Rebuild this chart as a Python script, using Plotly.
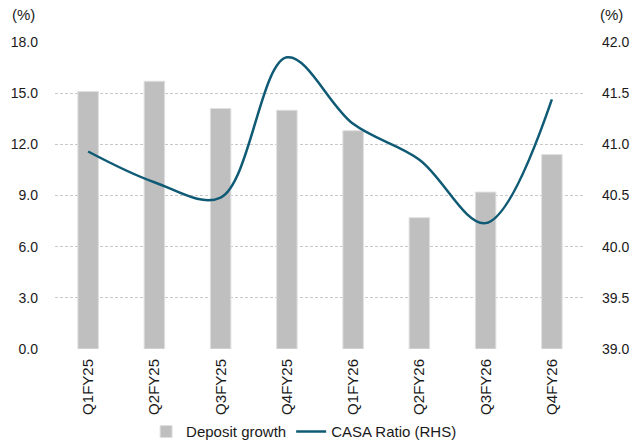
import plotly.graph_objects as go

categories = ["Q1FY25", "Q2FY25", "Q3FY25", "Q4FY25", "Q1FY26", "Q2FY26", "Q3FY26", "Q4FY26"]
deposit_growth = [15.1, 15.7, 14.1, 14.0, 12.8, 7.7, 9.2, 11.4]
casa_ratio = [40.93, 40.63, 40.48, 41.85, 41.20, 40.85, 40.23, 41.44]
left_ticks = [0, 3, 6, 9, 12, 15, 18]
right_ticks = [39.0, 39.5, 40.0, 40.5, 41.0, 41.5, 42.0]

FONT = "Liberation Sans, Arial, sans-serif"
fig = go.Figure()
fig.add_trace(go.Bar(
    x=categories, y=deposit_growth, name="Deposit growth",
    marker=dict(color="#BFBFBF", line=dict(color="#E0E0E0", width=1)),
))
fig.add_trace(go.Scatter(
    x=categories, y=casa_ratio, name="CASA Ratio (RHS)", yaxis="y2",
    mode="lines", line=dict(color="#0F5A74", width=2.5, shape="spline", smoothing=1.0),
))

fig.update_layout(
    width=632, height=447,
    margin=dict(l=55, r=47, t=42, b=98),
    paper_bgcolor="white", plot_bgcolor="white",
    font=dict(family=FONT, size=14, color="#1a1a1a"),
    bargap=0.69,
    showlegend=True,
    legend=dict(orientation="h", x=0.47, xanchor="center", yref="container", y=0.034,
                yanchor="middle", font=dict(size=15), traceorder="normal"),
    xaxis=dict(tickangle=-90, showgrid=False, showline=False, ticks="", automargin=False,
               ticklabelstandoff=6, tickfont=dict(size=15)),
    yaxis=dict(range=[0, 18], tickvals=left_ticks, ticktext=[f"{v:.1f}" for v in left_ticks],
               showgrid=True, gridcolor="#C8C8C8", griddash="3px,2px", gridwidth=1,
               zeroline=False, showline=False, ticks="", ticklabelstandoff=16, automargin=False),
    yaxis2=dict(range=[39, 42], tickvals=right_ticks, ticktext=[f"{v:.1f}" for v in right_ticks],
                overlaying="y", side="right", showgrid=False, zeroline=False,
                showline=False, ticks="", ticklabelstandoff=16, automargin=False),
    annotations=[
        dict(text="(%)", xref="paper", yref="paper", x=-0.06, y=1.09, xanchor="center",
             yanchor="middle", showarrow=False, font=dict(size=15)),
        dict(text="(%)", xref="paper", yref="paper", x=1.05, y=1.09, xanchor="center",
             yanchor="middle", showarrow=False, font=dict(size=15)),
    ],
)

fig.write_html("out.html")
